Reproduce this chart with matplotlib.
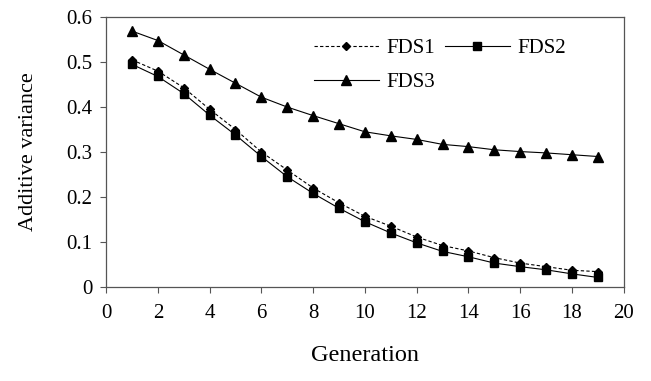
import matplotlib
matplotlib.use("Agg")
import matplotlib.pyplot as plt

plt.rcParams['font.family'] = ['Liberation Serif', 'DejaVu Serif']

generation = list(range(1, 20))
fds1 = [0.505, 0.48, 0.443, 0.395, 0.35, 0.30, 0.26, 0.22, 0.187, 0.157,
        0.135, 0.111, 0.092, 0.080, 0.065, 0.053, 0.045, 0.037, 0.034]
fds2 = [0.495, 0.468, 0.430, 0.382, 0.338, 0.290, 0.245, 0.208, 0.175, 0.145,
        0.120, 0.098, 0.079, 0.067, 0.053, 0.045, 0.038, 0.029, 0.021]
fds3 = [0.569, 0.548, 0.516, 0.484, 0.453, 0.422, 0.400, 0.381, 0.363, 0.345,
        0.336, 0.328, 0.317, 0.312, 0.305, 0.301, 0.298, 0.294, 0.290]

fig = plt.figure(figsize=(6.51, 3.81), dpi=100)
ax = fig.add_axes([0.163, 0.247, 0.795, 0.708])

l1, = ax.plot(generation, fds1, color='black', linestyle=(0, (3, 2)), linewidth=0.8,
              marker='D', markersize=4.5, label='FDS1')
l2, = ax.plot(generation, fds2, color='black', linestyle='-', linewidth=0.8,
              marker='s', markersize=5.5, label='FDS2')
l3, = ax.plot(generation, fds3, color='black', linestyle='-', linewidth=0.8,
              marker='^', markersize=6.5, label='FDS3')

ax.set_xlim(0, 20)
ax.set_ylim(0, 0.6)
ax.set_xticks(range(0, 21, 2))
ax.set_yticks([0, 0.1, 0.2, 0.3, 0.4, 0.5, 0.6])
ax.set_yticklabels(['0', '0.1', '0.2', '0.3', '0.4', '0.5', '0.6'])
ax.tick_params(direction='out', length=4, width=0.8, labelsize=15, pad=8, color='#555555')
ax.tick_params(axis='y', pad=6)
for s in ax.spines.values():
    s.set_color('#555555')
    s.set_linewidth(0.9)

ax.set_xlabel('Generation', fontsize=17.5, labelpad=16)
ax.set_ylabel('Additive variance', fontsize=16, labelpad=20)

ax.legend([l1, l3, l2], ['FDS1', 'FDS3', 'FDS2'], ncol=2, frameon=False,
          fontsize=15, handlelength=3.1, handletextpad=0.35, columnspacing=0.5,
          loc='upper right', bbox_to_anchor=(0.924, 0.99), labelspacing=0.7)

fig.savefig('out.png', dpi=100)
